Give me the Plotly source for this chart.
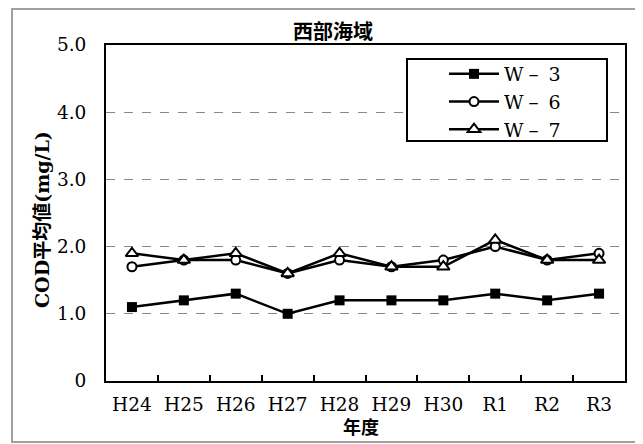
import plotly.graph_objects as go

categories = ["H24", "H25", "H26", "H27", "H28", "H29", "H30", "R1", "R2", "R3"]
w3 = [1.1, 1.2, 1.3, 1.0, 1.2, 1.2, 1.2, 1.3, 1.2, 1.3]
w6 = [1.7, 1.8, 1.8, 1.6, 1.8, 1.7, 1.8, 2.0, 1.8, 1.9]
w7 = [1.9, 1.8, 1.9, 1.6, 1.9, 1.7, 1.7, 2.1, 1.8, 1.8]
series_names = ["W－ 3", "W－ 6", "W－ 7"]
y_tickvals = [0, 1, 2, 3, 4, 5]
y_ticktext = ["0", "1.0", "2.0", "3.0", "4.0", "5.0"]

W, H = 643, 444
OFF = 8  # page body margin offset
PL, PR, PT, PB = 106, 625, 45, 381  # plot area in window coords
pw, ph = PR - PL, PB - PT

def px(x):
    return (x - PL) / pw

def py(y):
    return (PB - y) / ph

serif = "DejaVu Serif"
jp = "Noto Sans CJK JP"
mixed = "DejaVu Serif, Noto Sans CJK JP"

fig = go.Figure()
fig.add_trace(go.Scatter(x=categories, y=w3, name=series_names[0], mode="lines+markers",
                         line=dict(color="black", width=2.5),
                         marker=dict(symbol="square", size=10, color="black")))
fig.add_trace(go.Scatter(x=categories, y=w6, name=series_names[1], mode="lines+markers",
                         line=dict(color="black", width=2.5),
                         marker=dict(symbol="circle", size=9, color="white",
                                     line=dict(color="black", width=2))))
fig.add_trace(go.Scatter(x=categories, y=w7, name=series_names[2], mode="lines+markers",
                         line=dict(color="black", width=2.5),
                         marker=dict(symbol="triangle-up", size=11, color="white",
                                     line=dict(color="black", width=2))))

fig.update_layout(
    width=W, height=H,
    margin=dict(l=PL - OFF, r=W - (PR - OFF), t=PT - OFF, b=H - (PB - OFF)),
    paper_bgcolor="white", plot_bgcolor="white",
    showlegend=True,
    legend=dict(x=px(444), y=py(55), xanchor="left", yanchor="top",
                bgcolor="rgba(0,0,0,0)", borderwidth=0,
                font=dict(family=serif, size=19, color="black"),
                itemwidth=50, tracegroupgap=0),
    xaxis=dict(type="category", showline=True, mirror=True, linecolor="black", linewidth=2,
               ticks="inside", tickson="boundaries", ticklen=6, tickwidth=1.5, tickcolor="black",
               showgrid=False, tickfont=dict(family=serif, size=18.5, color="black"),
               ticklabelstandoff=6, range=[-0.5, 9.5]),
    yaxis=dict(range=[0, 5], tickvals=y_tickvals, ticktext=y_ticktext,
               showline=True, mirror=True, linecolor="black", linewidth=2,
               ticks="", showgrid=True, gridcolor="#888888", griddash="dash", gridwidth=1.3,
               zeroline=False, ticklabelstandoff=14,
               tickfont=dict(family=serif, size=18.5, color="black")),
    shapes=[
        dict(type="rect", xref="paper", yref="paper", x0=px(12), x1=px(639), y0=py(442), y1=py(9),
             line=dict(color="#a0a0a0", width=2), fillcolor="rgba(0,0,0,0)", layer="below"),
        dict(type="rect", xref="paper", yref="paper", x0=px(407), x1=px(607), y0=py(141), y1=py(59),
             line=dict(color="black", width=2), fillcolor="white", layer="above"),
    ],
    annotations=[
        dict(text="<b>西部海域</b>", xref="paper", yref="paper", x=px(333), y=py(31),
             showarrow=False, font=dict(family=jp, size=20, color="black"),
             xanchor="center", yanchor="middle"),
        dict(text="<b>COD平均値(mg/L)</b>", xref="paper", yref="paper", x=px(42), y=py(220),
             showarrow=False, textangle=-90, font=dict(family=mixed, size=19, color="black"),
             xanchor="center", yanchor="middle"),
        dict(text="<b>年度</b>", xref="paper", yref="paper", x=px(361), y=py(426),
             showarrow=False, font=dict(family=jp, size=18, color="black"),
             xanchor="center", yanchor="middle"),
    ],
)

fig.write_html("out.html")
